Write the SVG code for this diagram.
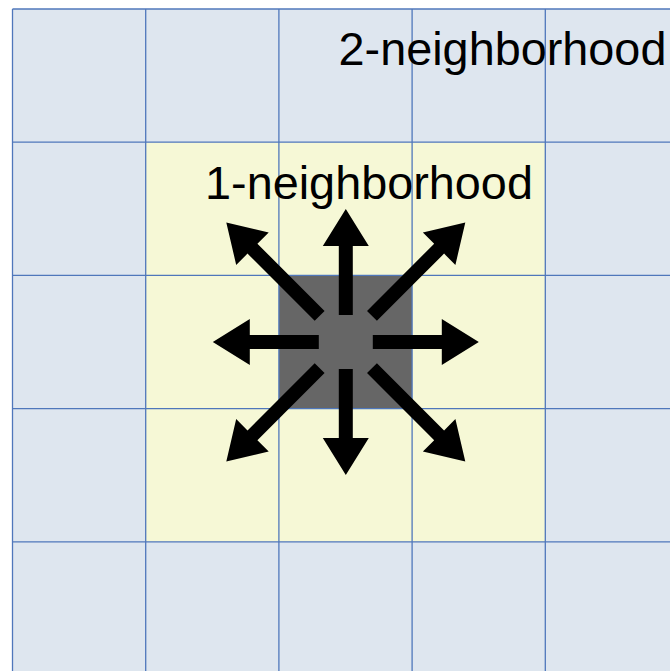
<svg xmlns="http://www.w3.org/2000/svg" width="670" height="671" viewBox="0 0 670 671">
<style>
.blue{fill:#dee6ef}
.yel{fill:#f6f8d6}
.ctr{fill:#666666}
.grid line{stroke:#4f77bb;stroke-width:1.3}
.arr{fill:#000}
.lbl{font-family:"Liberation Sans",Arial,sans-serif;font-size:46.8px;fill:#000;text-anchor:middle}
</style>
<defs>
<path id="ao" d="M27,-7 L96,-7 L96,-23 L133,0 L96,23 L96,7 L27,7 Z"/>
<path id="ad" d="M37,-7 L132,-7 L132,-23 L169,0 L132,23 L132,7 L37,7 Z"/>
</defs>
<rect width="670" height="671" fill="#fff"/>
<g id="outer"><rect class="blue" x="12.5" y="9" width="660" height="665"/></g>
<g id="neigh1"><rect class="yel" x="145.7" y="142.2" width="399.6" height="399.6"/></g>
<g id="center"><rect class="ctr" x="278.9" y="275.4" width="133.2" height="133.2"/></g>
<g class="grid" id="grid">
<line x1="12.5" y1="9" x2="12.5" y2="671"/>
<line x1="145.7" y1="9" x2="145.7" y2="671"/>
<line x1="278.9" y1="9" x2="278.9" y2="671"/>
<line x1="412.1" y1="9" x2="412.1" y2="671"/>
<line x1="545.3" y1="9" x2="545.3" y2="671"/>
<line x1="12.5" y1="9" x2="670" y2="9"/>
<line x1="12.5" y1="142.2" x2="670" y2="142.2"/>
<line x1="12.5" y1="275.4" x2="670" y2="275.4"/>
<line x1="12.5" y1="408.6" x2="670" y2="408.6"/>
<line x1="12.5" y1="541.8" x2="670" y2="541.8"/>
</g>
<g id="connectors" class="arr" transform="translate(345.8,342)">
<use href="#ao" transform="rotate(0)"/>
<use href="#ao" transform="rotate(90)"/>
<use href="#ao" transform="rotate(180)"/>
<use href="#ao" transform="rotate(270)"/>
<use href="#ad" transform="rotate(45)"/>
<use href="#ad" transform="rotate(135)"/>
<use href="#ad" transform="rotate(225)"/>
<use href="#ad" transform="rotate(315)"/>
</g>
<g id="label2"><text class="lbl" x="502.5" y="64.5">2-neighborhood</text></g>
<g id="label1"><text class="lbl" x="369" y="198.5">1-neighborhood</text></g>
</svg>
